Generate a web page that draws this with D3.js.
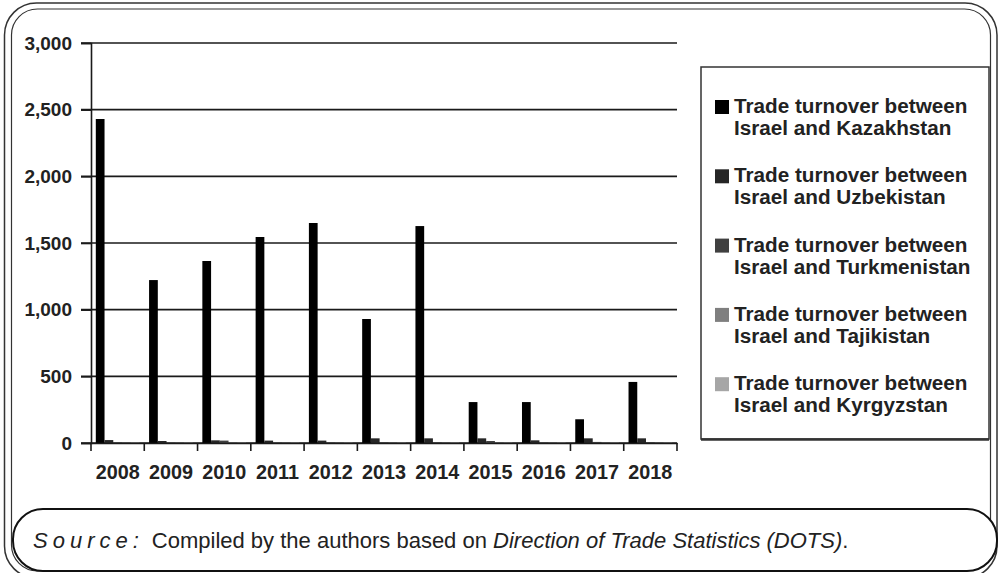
<!DOCTYPE html>
<html><head><meta charset="utf-8">
<script src="https://cdn.jsdelivr.net/npm/d3@7/dist/d3.min.js"></script>
<style>
html,body{margin:0;padding:0;background:#fff;}
svg{display:block;font-family:"Liberation Sans",Arial,sans-serif;}
</style></head>
<body>
<svg id="chart" width="998" height="573"></svg>
<script>
const years = ["2008","2009","2010","2011","2012","2013","2014","2015","2016","2017","2018"];
const seriesNames = [
  "Israel and Kazakhstan",
  "Israel and Uzbekistan",
  "Israel and Turkmenistan",
  "Israel and Tajikistan",
  "Israel and Kyrgyzstan"
];
const kazakhstan   = [2430, 1222, 1365, 1545, 1650, 930, 1627, 307, 307, 178, 458];
const uzbekistan   = [22, 15, 20, 18, 18, 35, 35, 35, 20, 35, 35];
const turkmenistan = [3, 2, 18, 2, 3, 4, 4, 15, 3, 8, 6];
const tajikistan   = [1, 1, 1, 1, 1, 1, 1, 1, 1, 1, 1];
const kyrgyzstan   = [2, 2, 2, 2, 2, 2, 2, 2, 2, 2, 2];
const yTicks = [0, 500, 1000, 1500, 2000, 2500, 3000];
const colors = ["#000000", "#262626", "#404040", "#7f7f7f", "#a6a6a6"];

const seriesValues = [kazakhstan, uzbekistan, turkmenistan, tajikistan, kyrgyzstan];

const svg = d3.select("#chart");

// outer double frame
svg.append("rect").attr("x",4.5).attr("y",3).attr("width",992.5).attr("height",575)
  .attr("rx",32).attr("ry",32).attr("fill","none").attr("stroke","#333").attr("stroke-width",1.5);
svg.append("rect").attr("x",11.5).attr("y",9).attr("width",979).attr("height",562)
  .attr("rx",26).attr("ry",26).attr("fill","none").attr("stroke","#333").attr("stroke-width",1.2);

const x = d3.scaleBand().domain(years).range([91, 677]).paddingInner(0).paddingOuter(0);
const xs = d3.scaleBand().domain(d3.range(5)).range([0, x.bandwidth()]).paddingInner(0).paddingOuter(0.55);
const y = d3.scaleLinear().domain([0, 3000]).range([443, 43]);

// gridlines
const grid = svg.append("g");
grid.selectAll("line").data(yTicks).join("line")
  .attr("x1", 81).attr("x2", 677)
  .attr("y1", d => y(d)).attr("y2", d => y(d))
  .attr("stroke", "#1a1a1a").attr("stroke-width", 1.6);

// y-axis
const yAxis = d3.axisLeft(y).tickValues(yTicks).tickSize(10).tickPadding(9)
  .tickFormat(d3.format(","));
const gy = svg.append("g").attr("transform","translate(91,0)").call(yAxis);
gy.select(".domain").attr("stroke","#1a1a1a").attr("stroke-width",1.6);
gy.selectAll(".tick line").attr("stroke","#1a1a1a").attr("stroke-width",1.6);
gy.selectAll(".tick text").attr("font-size",19).attr("font-weight","bold").attr("fill","#222")
  .attr("font-family","'Liberation Sans',Arial,sans-serif");

// bars
const groups = svg.append("g").selectAll("g").data(seriesValues).join("g")
  .attr("fill", (d,i) => colors[i]);
groups.each(function(vals, si){
  d3.select(this).selectAll("rect").data(vals).join("rect")
    .attr("x", (v,i) => x(years[i]) + xs(si))
    .attr("width", xs.bandwidth())
    .attr("y", v => y(v))
    .attr("height", v => y(0) - y(v));
});

// x-axis
const xAxis = d3.axisBottom(x).tickSize(0).tickPadding(22);
const gx = svg.append("g").attr("transform","translate(0,443)").call(xAxis);
gx.select(".domain").attr("stroke","#1a1a1a").attr("stroke-width",1.6);
gx.selectAll(".tick text").attr("font-size",19.8).attr("font-weight","bold").attr("fill","#222")
  .attr("font-family","'Liberation Sans',Arial,sans-serif");
// category boundary ticks
const bounds = years.map(yv => x(yv)).concat([x.range()[1]]);
svg.append("g").selectAll("line").data(bounds).join("line")
  .attr("x1", d => d).attr("x2", d => d).attr("y1", 443).attr("y2", 451)
  .attr("stroke","#1a1a1a").attr("stroke-width",1.6);

// legend
svg.append("rect").attr("x",701).attr("y",67).attr("width",288).attr("height",372)
  .attr("fill","#fff").attr("stroke","#333").attr("stroke-width",1.5);
svg.append("line").attr("x1",701).attr("x2",989).attr("y1",439.5).attr("y2",439.5)
  .attr("stroke","#333").attr("stroke-width",2.5);
const leg = svg.append("g").selectAll("g").data(seriesNames).join("g")
  .attr("transform", (d,i) => `translate(715,${106 + i*69.3})`);
leg.append("rect").attr("x",0).attr("y",-6).attr("width",14).attr("height",14)
  .attr("fill", (d,i) => colors[i]);
const lt = leg.append("text").attr("font-size",20.7).attr("font-weight","bold").attr("fill","#222");
lt.append("tspan").attr("x",19).attr("y",7).text("Trade turnover between");
lt.append("tspan").attr("x",19).attr("y",29).text(d => d);

// source box
svg.append("rect").attr("x",13).attr("y",509).attr("width",984).attr("height",62)
  .attr("rx",30).attr("ry",30).attr("fill","#fff").attr("stroke","#111").attr("stroke-width",2);
const src = svg.append("text").attr("x",33).attr("y",548).attr("font-size",22).attr("fill","#222");
src.append("tspan").attr("font-style","italic").attr("letter-spacing","5").text("Source:");
src.append("tspan").attr("dx",8).text("Compiled by the authors based on ");
src.append("tspan").attr("font-style","italic").text("Direction of Trade Statistics (DOTS)");
src.append("tspan").text(".");
</script>
</body></html>
